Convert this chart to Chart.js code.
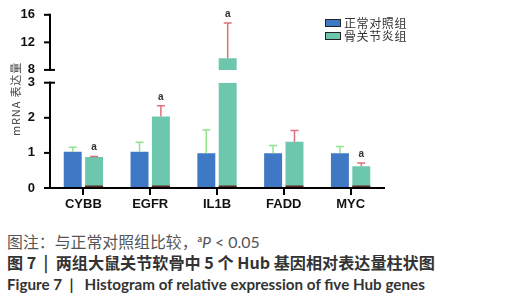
<!DOCTYPE html>
<html>
<head>
<meta charset="utf-8">
<script src="https://cdn.jsdelivr.net/npm/chart.js"></script>
<style>
    body { margin: 0; background: #fff; width: 509px; height: 300px; position: relative; overflow: hidden; font-family: "Noto Sans CJK SC", sans-serif; }
    #wrap { position: absolute; left: 0; top: 0; width: 509px; height: 216px; }
    #ytitle { position: absolute; left: -25px; top: 92px; width: 80px; height: 14px; line-height: 14px; text-align: center; transform: rotate(-90deg); white-space: nowrap; font-size: 11px; color: #444; }
    .legend { position: absolute; left: 325px; top: 16px; font-size: 12px; letter-spacing: 0.6px; color: #333; }
    .legend div { height: 13px; line-height: 13px; display: flex; align-items: center; }
    .legend span.box { display: inline-block; width: 14px; height: 6px; border: 1px solid #222; margin-right: 3px; }
    .cap { position: absolute; left: 7px; line-height: 20px; white-space: nowrap; }
    .c1 { top: 229px; font-size: 16px; color: #555; }
    .c1 sup { font-size: 9px; font-weight: bold; }
    .c1 .lat { font-family: Lato, sans-serif; }
    .c2 { top: 252px; font-size: 16px; color: #333; font-weight: 700; }
    .c3 { top: 274px; font-size: 14px; color: #333; font-weight: 700; font-family: Lato, sans-serif; }
</style>
</head>
<body>
<div id="wrap"><canvas id="chart" width="509" height="216"></canvas></div>
<div id="ytitle"><span>mRNA 表达量</span></div>
<div class="legend">
    <div><span class="box" style="background:#3f78c4"></span>正常对照组</div>
    <div><span class="box" style="background:#6cc7ac"></span>骨关节炎组</div>
</div>
<div class="cap c1" data-w="253">图注：与正常对照组比较，<span class="lat"><sup>a</sup><i>P</i> &lt; 0.05</span></div>
<div class="cap c2" data-w="428">图 7 &nbsp;|&nbsp; 两组大鼠关节软骨中 5 个 Hub 基因相对表达量柱状图</div>
<div class="cap c3" data-w="418">Figure 7 &nbsp;|&nbsp;&nbsp; Histogram of relative expression of five Hub genes</div>

<script>
// 数据：从图中读取
const categories = ['CYBB', 'EGFR', 'IL1B', 'FADD', 'MYC'];
const controlValues = [1.03, 1.03, 0.99, 0.99, 0.99];
const controlErrors = [1.16, 1.30, 1.65, 1.21, 1.18];
const oaValues = [0.88, 2.04, 9.7, 1.32, 0.62];
const oaErrors = [0.90, 2.34, 14.8, 1.64, 0.71];
const oaMarks = ['a', 'a', 'a', '', 'a'];
const lowTicks = [0, 1, 2, 3];
const highTicks = [8, 12, 16];
const breakLow = 3, breakHigh = 8;

const blue = '#3f78c4';
const green = '#6cc7ac';
const tickFont = { family: 'Liberation Sans', size: 13, weight: 'bold' };

// 图注文字宽度按原图调整
document.querySelectorAll('.cap').forEach(el => {
    const target = +el.dataset.w;
    const fs = parseFloat(getComputedStyle(el).fontSize);
    const w = el.getBoundingClientRect().width;
    if (w > 0) el.style.fontSize = (fs * target / w).toFixed(2) + 'px';
});

// y 轴标题：长约 74px，中心在 (15, 99)
(function () {
    const el = document.getElementById('ytitle');
    const span = el.querySelector('span');
    const r0 = span.getBoundingClientRect();
    const textLen = Math.max(r0.width, r0.height);
    el.style.letterSpacing = ((74 - textLen) / span.textContent.length).toFixed(2) + 'px';
    const r = span.getBoundingClientRect();
    el.style.top = (92 + 99 - (r.top + r.bottom) / 2).toFixed(1) + 'px';
    el.style.left = (-25 + 15 - (r.left + r.right) / 2).toFixed(1) + 'px';
})();

// 误差线、显著性标记、断开的 y 轴
const overlay = {
    id: 'overlay',
    afterDraw(chart) {
        const ctx = chart.ctx;
        const yLow = chart.scales.y, yHigh = chart.scales.yTop;
        const pix = v => v > breakLow ? yHigh.getPixelForValue(v) : yLow.getPixelForValue(v);
        const groups = [
            [0, controlValues, controlErrors, '#8fe48a', null],
            [1, oaValues, oaErrors, '#e0707c', oaMarks]
        ];
        ctx.save();
        groups.forEach(([di, vals, errs, col, marks]) => {
            chart.getDatasetMeta(di).data.forEach((bar, i) => {
                const x = bar.x;
                const yv = pix(vals[i]);
                const ye = pix(errs[i]);
                ctx.strokeStyle = col;
                ctx.lineWidth = 1.5;
                ctx.beginPath();
                ctx.moveTo(x, yv);
                ctx.lineTo(x, ye);
                ctx.moveTo(x - 4, ye);
                ctx.lineTo(x + 4, ye);
                ctx.stroke();
                if (di === 1) {
                    ctx.fillStyle = '#5c2b25';
                    ctx.fillRect(x - bar.width / 2, yLow.getPixelForValue(0) - 2.5, bar.width, 1.5);
                }
                if (marks && marks[i]) {
                    ctx.fillStyle = '#333';
                    ctx.font = 'bold 10px "Liberation Sans"';
                    ctx.textAlign = 'center';
                    ctx.textBaseline = 'middle';
                    ctx.fillText(marks[i], x, ye - 9);
                }
            });
        });
        ctx.restore();

        const ax = chart.scales.x.left;
        ctx.save();
        ctx.strokeStyle = '#000';
        ctx.lineWidth = 2;
        [[yLow, lowTicks], [yHigh, highTicks]].forEach(([sc, ticks]) => {
            ctx.beginPath();
            ctx.moveTo(ax, sc.getPixelForValue(sc.min) + 1);
            ctx.lineTo(ax, sc.getPixelForValue(sc.max) - 1);
            ctx.stroke();
            ticks.forEach(t => {
                const y = sc.getPixelForValue(t);
                ctx.beginPath();
                ctx.moveTo(ax - 6, y);
                ctx.lineTo(ax, y);
                ctx.stroke();
            });
        });
        [yLow.getPixelForValue(breakLow), yHigh.getPixelForValue(breakHigh)].forEach(y => {
            ctx.beginPath();
            ctx.moveTo(ax - 1, y);
            ctx.lineTo(ax + 5, y);
            ctx.stroke();
        });
        ctx.restore();
    }
};

const fixWidth = s => { s.width = 50; };

new Chart(document.getElementById('chart'), {
    type: 'bar',
    data: {
        labels: categories,
        datasets: [
            { label: '正常对照组', data: controlValues, backgroundColor: blue, yAxisID: 'y', stack: 'ctrl' },
            { label: '骨关节炎组', data: oaValues.map(v => Math.min(v, breakLow)), backgroundColor: green, yAxisID: 'y', stack: 'oa' },
            { label: '骨关节炎组 (断轴上方)', data: oaValues.map(v => v > breakLow ? v : null), backgroundColor: green, yAxisID: 'yTop', stack: 'oa', base: breakHigh }
        ]
    },
    options: {
        responsive: false,
        animation: false,
        categoryPercentage: 0.64,
        barPercentage: 0.84,
        layout: { padding: { left: 0, top: 12, right: 125, bottom: 0 } },
        plugins: { legend: { display: false }, tooltip: { enabled: false } },
        scales: {
            x: {
                grid: { offset: false, drawOnChartArea: false, color: '#000', lineWidth: 2, tickLength: 7 },
                border: { color: '#000', width: 2, z: 1 },
                ticks: { color: '#111', font: tickFont, padding: 2 },
                afterFit: s => { s.height = 28; }
            },
            y: {
                position: 'left', stack: 'v', stackWeight: 107, stacked: false,
                min: 0, max: 3,
                afterBuildTicks: s => { s.ticks = lowTicks.map(v => ({ value: v })); },
                grid: { display: false },
                border: { display: false },
                ticks: { color: '#111', font: tickFont, padding: 7, autoSkip: false },
                afterFit: fixWidth
            },
            gap: {
                position: 'left', stack: 'v', stackWeight: 13,
                min: 0, max: 1,
                grid: { display: false },
                border: { display: false },
                ticks: { display: false },
                afterFit: fixWidth
            },
            yTop: {
                position: 'left', stack: 'v', stackWeight: 56, stacked: false,
                min: 8, max: 16,
                afterBuildTicks: s => { s.ticks = highTicks.map(v => ({ value: v })); },
                grid: { display: false },
                border: { display: false },
                ticks: { color: '#111', font: tickFont, padding: 7, autoSkip: false },
                afterFit: fixWidth
            }
        }
    },
    plugins: [overlay]
});
</script>
</body>
</html>
